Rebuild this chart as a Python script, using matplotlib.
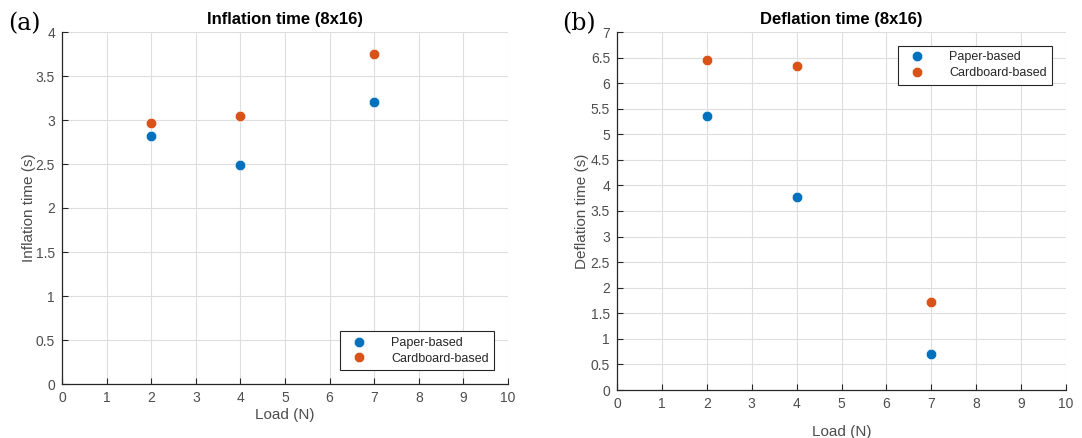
import matplotlib.pyplot as plt
import numpy as np

plt.rcParams['font.family'] = ['Liberation Sans', 'DejaVu Sans']

# data
load = [2, 4, 7]
infl_paper = [2.82, 2.49, 3.20]
infl_card = [2.97, 3.04, 3.75]
defl_paper = [5.35, 3.78, 0.70]
defl_card = [6.45, 6.33, 1.72]
series_names = ['Paper-based', 'Cardboard-based']

BLUE = '#0072BD'
ORANGE = '#D95319'
TICKC = '#4d4d4d'

fig = plt.figure(figsize=(10.82, 4.38), dpi=100)
ax1 = fig.add_axes([62/1082, 1-384/438, (508-62)/1082, (384-32)/438])
ax2 = fig.add_axes([617/1082, 1-390/438, (1066-617)/1082, (390-32)/438])


def style(ax, ymax, ystep):
    ax.set_xlim(0, 10)
    ax.set_ylim(0, ymax)
    ax.set_xticks(np.arange(0, 11, 1))
    ax.set_yticks(np.arange(0, ymax + 0.01, ystep))
    ax.set_yticklabels(['%g' % v for v in np.arange(0, ymax + 0.01, ystep)])
    ax.grid(True, color='#dedede', linewidth=0.8)
    ax.set_axisbelow(True)
    for s in ['top', 'right']:
        ax.spines[s].set_visible(False)
    for s in ['left', 'bottom']:
        ax.spines[s].set_color('#262626')
        ax.spines[s].set_linewidth(0.9)
    ax.tick_params(direction='in', length=4, colors='#262626', labelcolor=TICKC,
                   labelsize=10, pad=5)


def scatter(ax, yp, yc, loc):
    ax.plot(load, yp, 'o', color=BLUE, markersize=7.5, markeredgecolor='white',
            markeredgewidth=0.4, label=series_names[0], clip_on=False)
    ax.plot(load, yc, 'o', color=ORANGE, markersize=7.5, markeredgecolor='white',
            markeredgewidth=0.4, label=series_names[1], clip_on=False)
    leg = ax.legend(loc=loc, fancybox=False, fontsize=9, edgecolor='#262626',
                    framealpha=1, handletextpad=1.6, borderpad=0.45,
                    labelspacing=0.3, handlelength=2.0, borderaxespad=1.1)
    leg.get_frame().set_linewidth(0.8)
    for t in leg.get_texts():
        t.set_color('#262626')


style(ax1, 4, 0.5)
scatter(ax1, infl_paper, infl_card, 'lower right')
ax1.set_title('Inflation time (8x16)', fontsize=12, fontweight='bold', pad=6)
ax1.set_xlabel('Load (N)', fontsize=11, color=TICKC, labelpad=2)
ax1.set_ylabel('Inflation time (s)', fontsize=11, color=TICKC, labelpad=0)

style(ax2, 7, 0.5)
scatter(ax2, defl_paper, defl_card, 'upper right')
ax2.set_title('Deflation time (8x16)', fontsize=12, fontweight='bold', pad=6)
ax2.set_xlabel('Load (N)', fontsize=11, color=TICKC, labelpad=10)
ax2.set_ylabel('Deflation time (s)', fontsize=11, color=TICKC, labelpad=1)

fig.text(8/1082, 1-30/438, '(a)', fontsize=17, family='DejaVu Serif', va='baseline')
fig.text(562/1082, 1-30/438, '(b)', fontsize=17, family='DejaVu Serif', va='baseline')

fig.savefig('out.png', dpi=100)
